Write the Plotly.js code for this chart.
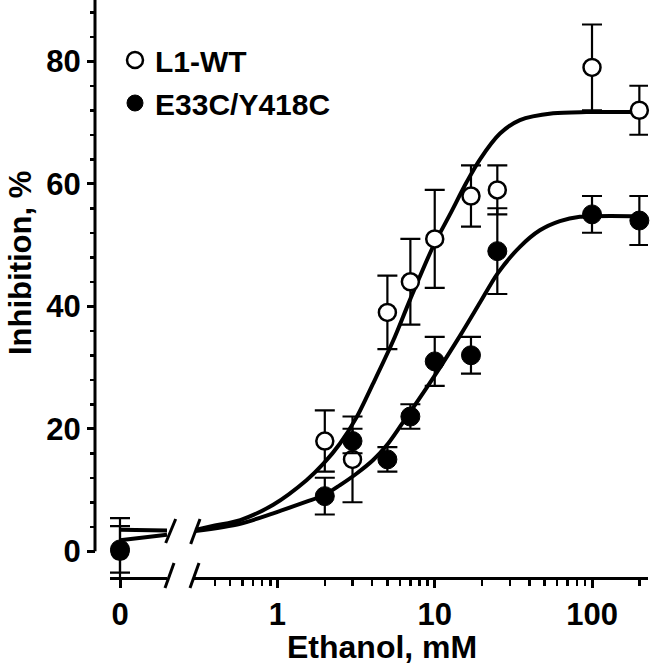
<!DOCTYPE html>
<html>
<head>
<meta charset="utf-8">
<script src="https://cdn.plot.ly/plotly-3.0.1.min.js"></script>
<style>html,body{margin:0;padding:0;background:#fff;}#chart{width:650px;height:669px;}</style>
</head>
<body>
<div id="chart"></div>
<script>
// ---- data ----
const concentrations = [2, 3, 5, 7, 10, 17, 25, 100, 200];   // Ethanol, mM
const wtInhibition   = [18, 15, 39, 44, 51, 58, 59, 79, 72];
const wtError        = [5, 7, 6, 7, 8, 5, 4, 7, 4];
const mutInhibition  = [9, 18, 15, 22, 31, 32, 49, 55, 54];
const mutError       = [3, 2, 2, 2, 4, 3, 7, 3, 4];

const zeroConc       = [0];
const wtZero         = [0];
const wtZeroError    = [5.4];
const mutZero        = [0.3];
const mutZeroError   = [3.8];

// fitted curves
const wtFitX  = [0.3, 0.4, 0.58, 0.94, 1.53, 1.96, 2.5, 3.19, 4.06, 5.45, 6.95, 9.78, 12.5, 15.9, 19.4, 26, 34.8, 56.6, 92, 200];
const wtFitY  = [3.5, 4.2, 5.1, 7.6, 11.6, 14.3, 17.6, 21.9, 27.4, 34.4, 41.0, 49.8, 55.0, 60.2, 64.0, 68.2, 70.4, 71.5, 71.7, 71.7];
const mutFitX = [0.3, 0.58, 0.94, 1.53, 1.96, 2.5, 3.19, 4.06, 4.95, 6.0, 9.78, 14.5, 19.4, 25, 34.8, 46.6, 62.5, 83.7, 200];
const mutFitY = [3.3, 4.5, 6.2, 8.1, 9.1, 10.8, 12.7, 14.9, 17.3, 20.3, 28.3, 35.2, 40.6, 45.3, 49.7, 52.4, 53.9, 54.6, 54.7];
// segment left of the axis break
const breakSegX  = [0, 4.7];
const wtBreakY   = [3.5, 3.4];
const mutBreakY  = [1.8, 2.7];

const yMajor = [0, 20, 40, 60, 80];
const yMinor = [4, 8, 12, 16, 24, 28, 32, 36, 44, 48, 52, 56, 64, 68, 72, 76, 84, 88];
const xMajor = [1, 10, 100];
const xMajorText = ['1', '10', '100'];
const xMinor = [0.4, 0.5, 0.6, 0.7, 0.8, 0.9, 2, 3, 4, 5, 6, 7, 8, 9, 20, 30, 40, 50, 60, 70, 80, 90, 200];

const FONT = 'Liberation Sans, Arial, Helvetica, sans-serif';
const lineStyle = {color: '#000', width: 4};
const errStyle = (arr) => ({type: 'data', array: arr, visible: true, color: '#000', thickness: 2.2, width: 10});

const traces = [
  {x: breakSegX, y: wtBreakY, xaxis: 'x', yaxis: 'y', mode: 'lines', line: lineStyle, showlegend: false, hoverinfo: 'skip'},
  {x: breakSegX, y: mutBreakY, xaxis: 'x', yaxis: 'y', mode: 'lines', line: lineStyle, showlegend: false, hoverinfo: 'skip'},
  {x: wtFitX, y: wtFitY, xaxis: 'x2', yaxis: 'y', mode: 'lines', line: Object.assign({shape: 'spline', smoothing: 0.8}, lineStyle), showlegend: false, hoverinfo: 'skip'},
  {x: mutFitX, y: mutFitY, xaxis: 'x2', yaxis: 'y', mode: 'lines', line: Object.assign({shape: 'spline', smoothing: 0.8}, lineStyle), showlegend: false, hoverinfo: 'skip'},
  // zero-concentration points
  {x: zeroConc, y: wtZero, xaxis: 'x', yaxis: 'y', mode: 'markers', showlegend: false, cliponaxis: false,
   marker: {symbol: 'circle', size: 17, color: '#fff', line: {color: '#000', width: 2.5}}, error_y: errStyle(wtZeroError)},
  {x: zeroConc, y: mutZero, xaxis: 'x', yaxis: 'y', mode: 'markers', showlegend: false, cliponaxis: false,
   marker: {symbol: 'circle', size: 19, color: '#000', line: {color: '#000', width: 1}}, error_y: errStyle(mutZeroError)},
  // main series
  {x: concentrations, y: wtInhibition, xaxis: 'x2', yaxis: 'y', mode: 'markers', name: 'L1-WT', cliponaxis: false, legendgroup: 'a',
   marker: {symbol: 'circle', size: 17, color: '#fff', line: {color: '#000', width: 2.5}}, error_y: errStyle(wtError)},
  {x: concentrations, y: mutInhibition, xaxis: 'x2', yaxis: 'y', mode: 'markers', name: 'E33C/Y418C', cliponaxis: false, legendgroup: 'b',
   marker: {symbol: 'circle', size: 19, color: '#000', line: {color: '#000', width: 1}}, error_y: errStyle(mutError)}
];

const W = 553, H = 577, L = 95;
const px = v => (v - L) / W;
const py = v => (H - v) / H;
const slash = (x0, y0, x1, y1) => ({type: 'line', xref: 'paper', yref: 'paper', x0: px(x0), y0: py(y0), x1: px(x1), y1: py(y1), line: {color: '#000', width: 3}});

const tickFont = {family: FONT, size: 31, color: '#000', weight: 'bold'};

const layout = {
  width: 650, height: 669,
  margin: {l: 95, r: 2, t: 0, b: 92},
  paper_bgcolor: '#fff', plot_bgcolor: '#fff',
  showlegend: true,
  legend: {x: px(115), y: py(34), xanchor: 'left', yanchor: 'top', bgcolor: 'rgba(0,0,0,0)',
           font: {family: FONT, size: 30, color: '#000', weight: 'bold'}, tracegroupgap: 1, itemwidth: 30},
  xaxis: {domain: [px(110), px(167)], range: [-1, 4.7], anchor: 'y', tickmode: 'array', tickvals: [0], ticktext: ['0'],
          showline: true, linecolor: '#000', linewidth: 3, ticks: 'outside', ticklen: 8, tickwidth: 3, tickcolor: '#000',
          showgrid: false, zeroline: false, tickfont: tickFont, fixedrange: true},
  xaxis2: {domain: [px(193), 1], type: 'log', range: [-0.537, 2.356], anchor: 'y', tickmode: 'array', tickvals: xMajor, ticktext: xMajorText,
           showline: true, linecolor: '#000', linewidth: 3, ticks: 'outside', ticklen: 8, tickwidth: 3, tickcolor: '#000',
           minor: {tickmode: 'array', tickvals: xMinor, ticks: 'outside', ticklen: 6, tickwidth: 2.5, tickcolor: '#000', showgrid: false},
           showgrid: false, zeroline: false, tickfont: tickFont, fixedrange: true},
  yaxis: {range: [-4.2, 90], anchor: 'free', position: 0, tickmode: 'array', tickvals: yMajor,
          showline: false, ticks: 'outside', ticklen: 8, tickwidth: 3, tickcolor: '#000',
          minor: {tickmode: 'array', tickvals: yMinor, ticks: 'outside', ticklen: 5, tickwidth: 2.5, tickcolor: '#000', showgrid: false},
          showgrid: false, zeroline: false, tickfont: tickFont, fixedrange: true},
  shapes: [
    {type: 'line', xref: 'paper', yref: 'y', x0: 0, x1: 0, y0: 0, y1: 90, line: {color: '#000', width: 3}},
    slash(165, 588, 174, 563), slash(190, 588, 199, 563),
    slash(165.7, 543, 175.7, 519), slash(190.7, 544, 200, 519)
  ],
  annotations: [
    {text: 'Inhibition, %', xref: 'paper', yref: 'paper', x: px(20), y: py(263), xanchor: 'center', yanchor: 'middle',
     textangle: -90, showarrow: false, font: {family: FONT, size: 31, color: '#000', weight: 'bold'}},
    {text: 'Ethanol, mM', xref: 'paper', yref: 'paper', x: px(382), y: py(647), xanchor: 'center', yanchor: 'middle',
     showarrow: false, font: {family: FONT, size: 32, color: '#000', weight: 'bold'}}
  ]
};

Plotly.newPlot('chart', traces, layout, {displayModeBar: false, staticPlot: true});
</script>
</body>
</html>
